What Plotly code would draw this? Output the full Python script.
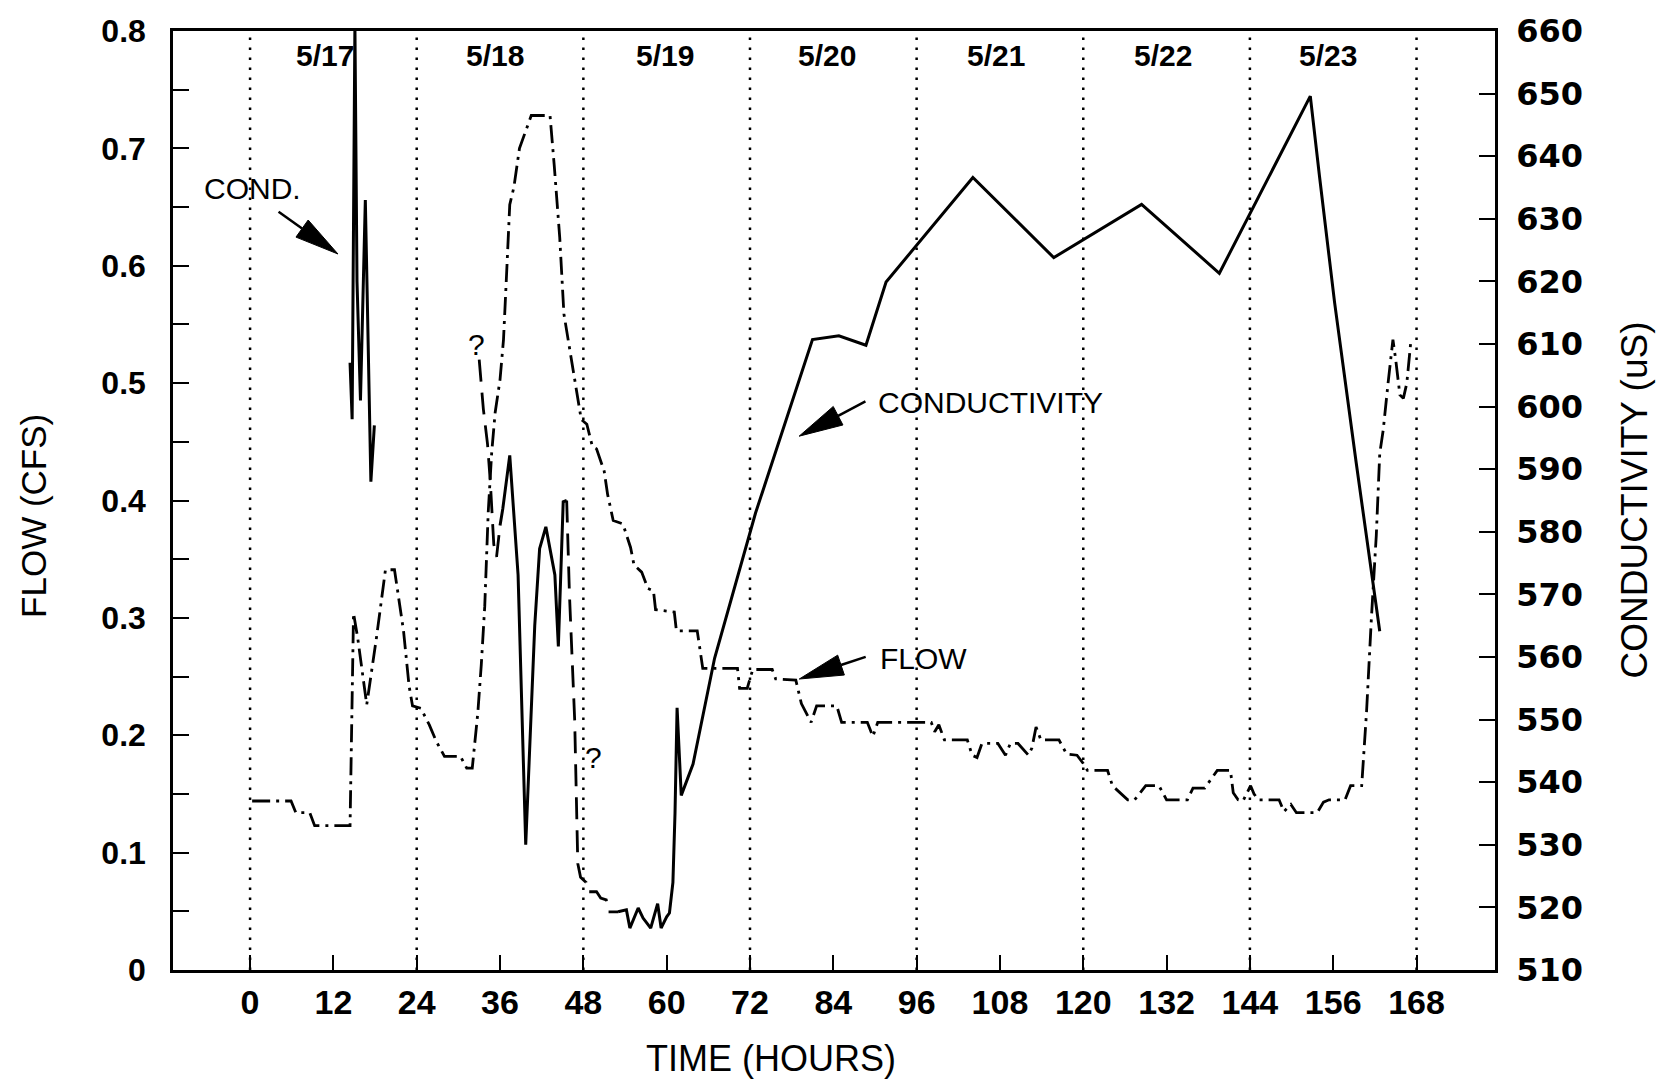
import math
import plotly.graph_objects as go

# ---------------- data ----------------
day_boundaries = [0, 24, 48, 72, 96, 120, 144, 168]
day_labels = ["5/17", "5/18", "5/19", "5/20", "5/21", "5/22", "5/23"]
day_label_hours = [10.8, 35.3, 59.7, 83.1, 107.5, 131.5, 155.2]
x_tick_hours = [0, 12, 24, 36, 48, 60, 72, 84, 96, 108, 120, 132, 144, 156, 168]

# flow (CFS), dash-dot line
flow_hours = [0.3, 5.9, 6.6, 8.6, 9.3, 14.4, 14.9, 15.5, 16.8, 18.2, 19.5, 20.8, 22.1, 22.9,
              23.4, 24.6, 25.8, 26.8, 28.0, 30.3, 31.2, 32.0, 32.8, 33.3, 33.8, 34.3, 34.8,
              35.3, 36.0, 36.5, 37.0, 37.4, 38.0, 38.8, 40.5, 43.2, 43.8, 44.6, 45.2, 46.0,
              46.8, 47.7, 48.5, 49.3, 49.9, 51.0, 51.5, 52.3, 53.7, 54.8, 55.3, 56.4, 57.3,
              58.1, 58.4, 61.1, 61.4, 64.4, 65.2, 70.2, 70.5, 71.6, 72.4, 75.2, 75.7, 78.6,
              79.4, 80.8, 81.6, 84.5, 85.2, 88.9, 89.7, 90.4, 98.1, 98.6, 99.2, 100.0, 103.3,
              104.0, 104.7, 105.4, 107.7, 108.8, 109.5, 110.6, 112.1, 112.6, 113.2, 113.9,
              116.5, 117.6, 119.1, 120.0, 120.6, 123.5, 124.2, 126.4, 127.4, 129.0, 130.9,
              131.7, 132.0, 135.0, 135.8, 137.5, 139.3, 141.2, 141.6, 142.3, 143.0, 144.1,
              144.6, 145.2, 148.2, 148.9, 149.9, 150.7, 153.7, 154.6, 155.4, 157.7, 158.5,
              160.1, 160.8, 161.5, 162.2, 162.7, 163.2, 163.9, 164.6, 165.0, 165.6, 166.1,
              166.6, 167.2]
flow_cfs = [0.144, 0.144, 0.134, 0.134, 0.123, 0.123, 0.304, 0.283, 0.226, 0.283, 0.341, 0.341,
            0.289, 0.242, 0.225, 0.223, 0.209, 0.195, 0.182, 0.182, 0.172, 0.172, 0.219, 0.26,
            0.31, 0.39, 0.441, 0.475, 0.503, 0.537, 0.600, 0.652, 0.667, 0.700, 0.728, 0.728,
            0.686, 0.624, 0.559, 0.531, 0.500, 0.469, 0.465, 0.446, 0.444, 0.425, 0.405, 0.383,
            0.380, 0.360, 0.345, 0.339, 0.325, 0.323, 0.307, 0.305, 0.289, 0.289, 0.257, 0.257,
            0.240, 0.240, 0.256, 0.256, 0.248, 0.247, 0.227, 0.211, 0.225, 0.225, 0.211, 0.211,
            0.199, 0.211, 0.211, 0.203, 0.209, 0.196, 0.196, 0.183, 0.181, 0.193, 0.193, 0.183,
            0.193, 0.193, 0.183, 0.189, 0.207, 0.196, 0.196, 0.184, 0.183, 0.176, 0.170, 0.170,
            0.157, 0.145, 0.145, 0.157, 0.157, 0.148, 0.145, 0.145, 0.155, 0.155, 0.170, 0.170,
            0.151, 0.145, 0.144, 0.157, 0.150, 0.145, 0.145, 0.135, 0.141, 0.134, 0.134, 0.143,
            0.145, 0.145, 0.157, 0.157, 0.22, 0.30, 0.37, 0.44, 0.46, 0.50, 0.537, 0.52, 0.49,
            0.487, 0.50, 0.537]

# conductivity (uS) – solid pieces
cond_a_hours = [14.4, 14.7, 15.1, 15.4, 15.9, 16.6, 17.4, 17.9]
cond_a_us = [607, 598, 661, 620, 601, 633, 588, 597]

cond_c_hours = [36.0, 36.4, 37.4, 38.6, 39.7, 41.0, 41.7, 42.6, 43.9, 44.4, 45.1, 45.6]
cond_c_us = [581, 583.7, 592.2, 573.1, 530.0, 565.0, 577.3, 580.8, 573.1, 561.7, 584.8, 585.0]

cond_e_hours = [53.0, 54.2, 54.7, 55.9, 56.6, 57.7, 58.7, 59.2, 60.0, 60.4, 60.9, 61.2, 61.5,
                62.1, 63.8, 66.9, 72.8, 81.0, 84.8, 88.7, 91.6, 104.1, 115.75, 128.4, 139.6,
                152.7, 154.0, 156.2, 159.3, 161.7, 162.7]
cond_e_us = [519.3, 519.6, 516.7, 519.9, 518.3, 516.7, 520.6, 516.7, 518.5, 519.1, 524.0, 535.0,
             551.9, 537.9, 542.9, 559.8, 583.0, 610.7, 611.3, 609.8, 619.9, 636.6, 623.8, 632.3,
             621.3, 649.6, 637.0, 616.6, 591.1, 571.5, 564.1]

# conductivity – questionable ("?") pieces, long dashes
cond_b_hours = [33.0, 33.6, 34.2, 34.6, 35.1, 35.5, 36.0]
cond_b_us = [607.5, 599.6, 594.0, 588.0, 578.0, 576.0, 581.0]

cond_d_hours = [45.6, 46.0, 46.75, 47.2, 47.6, 48.4, 48.6, 49.9, 50.5, 51.3, 51.6, 53.0]
cond_d_us = [585.0, 570.0, 550.0, 527.0, 524.8, 524.0, 522.5, 522.5, 521.5, 521.2, 519.3, 519.3]

question_hours = [32.6, 49.4]
question_flow = [0.533, 0.181]

# ---------------- figure ----------------
FONT_REG = "Liberation Sans, Arial, Helvetica, sans-serif"
FONT_WIDE = "DejaVu Sans, Liberation Sans, sans-serif"
BLACK = "#000000"

W, H = 1663, 1084
ML, MR, MT, MB = 173, 168, 27, 114
X_RANGE = [-11.1, 179.3]
PW, PH = W - ML - MR, H - MT - MB

fig = go.Figure()

for d in day_boundaries:
    fig.add_trace(go.Scatter(x=[d, d], y=[0, 0.8], mode="lines",
                             line=dict(color=BLACK, width=2.5, dash="2.5px,7.5px"),
                             hoverinfo="skip", showlegend=False))

fig.add_trace(go.Scatter(x=flow_hours, y=flow_cfs, mode="lines", name="FLOW",
                         line=dict(color=BLACK, width=2.8, dash="18px,6px,3px,6px"),
                         showlegend=False))

for hx, cy in [(cond_a_hours, cond_a_us), (cond_c_hours, cond_c_us), (cond_e_hours, cond_e_us)]:
    fig.add_trace(go.Scatter(x=hx, y=cy, mode="lines", yaxis="y2", name="CONDUCTIVITY",
                             line=dict(color=BLACK, width=3), showlegend=False))
for hx, cy in [(cond_b_hours, cond_b_us), (cond_d_hours, cond_d_us)]:
    fig.add_trace(go.Scatter(x=hx, y=cy, mode="lines", yaxis="y2", name="CONDUCTIVITY ?",
                             line=dict(color=BLACK, width=2.8, dash="22px,11px"),
                             showlegend=False))

annotations = []
for lab, hx in zip(day_labels, day_label_hours):
    annotations.append(dict(x=hx, y=0.779, xref="x", yref="y", text=f"<b>{lab}</b>",
                            showarrow=False, font=dict(family=FONT_REG, size=30, color=BLACK),
                            xanchor="center", yanchor="middle"))
for hx, fy in zip(question_hours, question_flow):
    annotations.append(dict(x=hx, y=fy, xref="x", yref="y", text="?", showarrow=False,
                            font=dict(family=FONT_REG, size=30, color=BLACK),
                            xanchor="center", yanchor="middle"))

annotations += [
    dict(x=0.3, y=0.666, xref="x", yref="y", text="COND.", showarrow=False,
         font=dict(family=FONT_REG, size=30, color=BLACK), xanchor="center", yanchor="middle"),
    dict(x=90.2, y=0.4838, xref="x", yref="y", text="CONDUCTIVITY", showarrow=False,
         font=dict(family=FONT_REG, size=30, color=BLACK), xanchor="left", yanchor="middle"),
    dict(x=90.5, y=0.2650, xref="x", yref="y", text="FLOW", showarrow=False,
         font=dict(family=FONT_REG, size=30, color=BLACK), xanchor="left", yanchor="middle"),
    dict(x=(34 - ML) / PW, y=(H - MB - 514) / PH, xref="paper", yref="paper", text="FLOW (CFS)",
         showarrow=False, textangle=-90, font=dict(family=FONT_REG, size=35, color=BLACK),
         xanchor="center", yanchor="middle"),
    dict(x=(1634 - ML) / PW, y=0.5, xref="paper", yref="paper",
         text="CONDUCTIVITY (uS)", showarrow=False, textangle=-90,
         font=dict(family=FONT_REG, size=37, color=BLACK), xanchor="center", yanchor="middle"),
    dict(x=(771 - ML) / PW, y=-(1058.5 - (H - MB)) / PH, xref="paper",
         yref="paper", text="TIME (HOURS)", showarrow=False,
         font=dict(family=FONT_REG, size=36, color=BLACK), xanchor="center", yanchor="middle"),
]

arrows = [
    dict(tip=(12.66, 0.610), tail=(-59.4, -42.2)),
    dict(tip=(79.08, 0.4548), tail=(66.3, -34.8)),
    dict(tip=(79.10, 0.2479), tail=(66.4, -22.2)),
]
shapes = []
HEAD_LEN, HALF_W = 44.0, 10.5
for a in arrows:
    tx, ty = a["tail"]
    L = math.hypot(tx, ty)
    ux, uy = -tx / L, -ty / L
    bx, by = -ux * HEAD_LEN, -uy * HEAD_LEN
    nx, ny = -uy, ux
    c1 = (bx + nx * HALF_W, by + ny * HALF_W)
    c2 = (bx - nx * HALF_W, by - ny * HALF_W)
    common = dict(xref="x", yref="y", xsizemode="pixel", ysizemode="pixel",
                  xanchor=a["tip"][0], yanchor=a["tip"][1])
    shapes.append(dict(type="path", path=f"M {tx:.1f},{-ty:.1f} L {bx:.1f},{-by:.1f}",
                       line=dict(color=BLACK, width=2.5), **common))
    shapes.append(dict(type="path",
                       path=f"M 0,0 L {c1[0]:.1f},{-c1[1]:.1f} L {c2[0]:.1f},{-c2[1]:.1f} Z",
                       fillcolor=BLACK, line=dict(color=BLACK, width=1), **common))

fig.update_layout(
    width=W, height=H,
    margin=dict(l=ML, r=MR, t=MT, b=MB),
    paper_bgcolor="white", plot_bgcolor="white",
    showlegend=False,
    annotations=annotations,
    shapes=shapes,
    xaxis=dict(range=X_RANGE, tickmode="array", tickvals=x_tick_hours,
               ticks="inside", ticklen=15, tickwidth=2.2, tickcolor=BLACK,
               showline=True, linewidth=2.5, linecolor=BLACK, mirror=True,
               showgrid=False, zeroline=False, ticklabelstandoff=0,
               tickfont=dict(family=FONT_REG, size=34, color=BLACK, weight="bold")),
    yaxis=dict(range=[0, 0.8], tickmode="linear", tick0=0, dtick=0.1,
               ticks="inside", ticklen=16, tickwidth=2.2, tickcolor=BLACK,
               minor=dict(tickmode="linear", tick0=0, dtick=0.05, ticks="inside",
                          ticklen=16, tickwidth=2.2, tickcolor=BLACK, showgrid=False),
               showline=True, linewidth=2.5, linecolor=BLACK,
               showgrid=False, zeroline=False, ticklabelstandoff=18,
               tickfont=dict(family=FONT_REG, size=32, color=BLACK, weight="bold")),
    yaxis2=dict(range=[510, 660], overlaying="y", side="right", tickmode="linear",
                tick0=510, dtick=10, ticks="inside", ticklen=16, tickwidth=2.2,
                tickcolor=BLACK, showline=True, linewidth=2.5, linecolor=BLACK,
                showgrid=False, zeroline=False, ticklabelstandoff=12,
                tickfont=dict(family=FONT_WIDE, size=32, color=BLACK, weight="bold")),
)

fig.write_html("out.html")
